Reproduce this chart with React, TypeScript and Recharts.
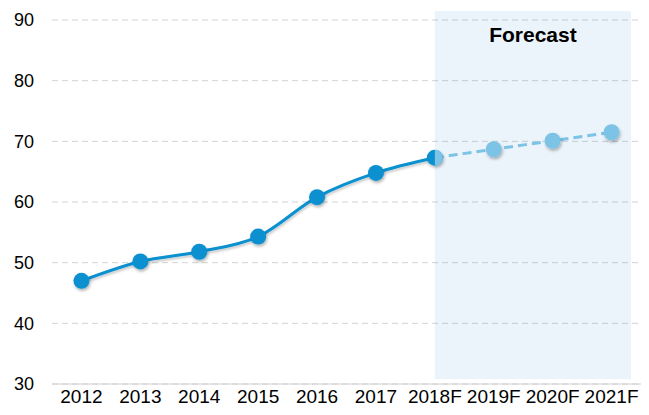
import {
  LineChart,
  Line,
  XAxis,
  YAxis,
  CartesianGrid,
  ReferenceArea,
} from 'recharts';

const YEARS = ['2012', '2013', '2014', '2015', '2016', '2017', '2018F', '2019F', '2020F', '2021F'];
const ACTUAL = [47.0, 50.2, 51.8, 54.3, 60.8, 64.8, 67.3, null, null, null];
const FORECAST = [null, null, null, null, null, null, 67.3, 68.7, 70.1, 71.5];
const Y_TICKS = [30, 40, 50, 60, 70, 80, 90];
const LABEL_TICKS = [0, 1, 2, 3, 4, 5, 6, 7, 8, 9];
const MARK_TICKS = [-0.5, 1.5, 3.5, 5.5, 7.5, 9.5];

const DARK = '#0890d0';
const LIGHT = '#7cc3e6';
const FONT = '"Liberation Sans", Arial, sans-serif';

const data = YEARS.map((year, i) => ({
  i,
  year,
  actual: ACTUAL[i],
  forecast: FORECAST[i],
}));

function ActualDot(props: any) {
  const { cx, cy, index } = props;
  if (cx == null || cy == null) return <g key={index} />;
  return <circle key={index} cx={cx} cy={cy} r={8} fill={DARK} filter="url(#dotShadow)" />;
}

function ForecastDot(props: any) {
  const { cx, cy, index } = props;
  if (cx == null || cy == null) return <g key={index} />;
  if (index === 6) {
    // first forecast point: light colour only on the shaded half
    return (
      <path
        key={index}
        d={`M${cx},${cy - 8} A8,8 0 0 1 ${cx},${cy + 8} Z`}
        fill={LIGHT}
      />
    );
  }
  return <circle key={index} cx={cx} cy={cy} r={8} fill={LIGHT} filter="url(#dotShadow)" />;
}

export default function App() {
  return (
    <div style={{ position: 'absolute', left: 0, top: 0, width: 649, height: 415, fontFamily: FONT, background: '#fff' }}>
      <svg width={0} height={0} style={{ position: 'absolute' }}>
        <defs>
          <filter id="dotShadow" x="-50%" y="-50%" width="200%" height="200%">
            <feDropShadow dx="1" dy="2" stdDeviation="1.5" floodColor="#000" floodOpacity="0.3" />
          </filter>
          <filter id="lineShadow" x="-10%" y="-10%" width="120%" height="130%">
            <feDropShadow dx="1" dy="2" stdDeviation="1.2" floodColor="#000" floodOpacity="0.2" />
          </filter>
        </defs>
      </svg>
      <LineChart width={649} height={415} data={data} margin={{ top: 20, right: 8, bottom: 0, left: 0 }}>
        <CartesianGrid vertical={false} stroke="#d3d3d3" strokeDasharray="6 4" />
        <XAxis
          type="number"
          dataKey="i"
          domain={[-0.5, 9.5]}
          ticks={MARK_TICKS}
          interval={0}
          tick={false}
          tickLine={{ stroke: '#cfcfcf' }}
          axisLine={{ stroke: '#cfcfcf' }}
          tickSize={6}
          height={1}
        />
        <XAxis
          xAxisId="labels"
          type="number"
          dataKey="i"
          domain={[-0.5, 9.5]}
          ticks={LABEL_TICKS}
          interval={0}
          tickFormatter={(v: number) => YEARS[v]}
          tickLine={false}
          axisLine={false}
          tickSize={0}
          tickMargin={5}
          height={30}
          tick={{ fontSize: 19, fill: '#000', fontFamily: FONT }}
        />
        <YAxis
          domain={[30, 90]}
          ticks={Y_TICKS}
          interval={0}
          axisLine={false}
          tickLine={false}
          tickSize={0}
          tickMargin={18}
          width={52}
          tick={{ fontSize: 18, fill: '#000', fontFamily: FONT }}
        />
        <ReferenceArea
          x1={6}
          x2={9.33}
          y1={30.8}
          y2={91.5}
          fill="#3d95d6"
          fillOpacity={0.1}
          stroke="none"
          ifOverflow="visible"
          label={{
            value: 'Forecast',
            position: 'insideTop',
            offset: 16,
            fontSize: 21,
            fontWeight: 'bold',
            fill: '#000',
            fontFamily: FONT,
          }}
        />
        <Line
          type="monotone"
          dataKey="actual"
          stroke={DARK}
          strokeWidth={3}
          dot={ActualDot}
          activeDot={false}
          filter="url(#lineShadow)"
          isAnimationActive={false}
        />
        <Line
          type="monotone"
          dataKey="forecast"
          stroke={LIGHT}
          strokeWidth={3}
          strokeDasharray="9 5"
          dot={ForecastDot}
          activeDot={false}
          isAnimationActive={false}
        />
      </LineChart>
    </div>
  );
}
